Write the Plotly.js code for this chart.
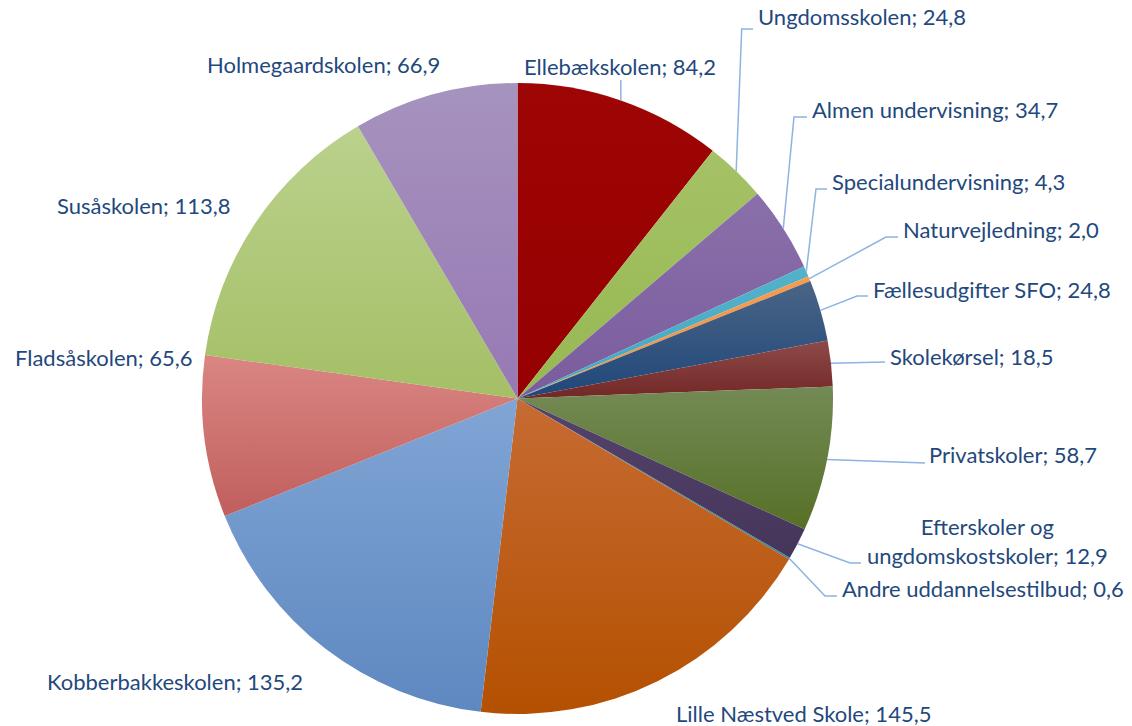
<!DOCTYPE html>
<html><head><meta charset="utf-8">
<script src="https://cdn.plot.ly/plotly-3.0.1.min.js"></script>
<style>html,body{margin:0;padding:0;background:#fff}#chart{width:1132px;height:726px}</style>
</head><body><div id="chart"></div>
<script>
const labels = ["Ellebækskolen","Ungdomsskolen","Almen undervisning","Specialundervisning","Naturvejledning","Fællesudgifter SFO","Skolekørsel","Privatskoler","Efterskoler og ungdomskostskoler","Andre uddannelsestilbud","Lille Næstved Skole","Kobberbakkeskolen","Fladsåskolen","Susåskolen","Holmegaardskolen"];
const values = [84.2,24.8,34.7,4.3,2.0,24.8,18.5,58.7,12.9,0.6,145.5,135.2,65.6,113.8,66.9];
const colors = ["#990000","#9BBB59","#8064A2","#4BACC6","#F79646","#2E4F7C","#7B2E2C","#5F7530","#4D3B62","#31849B","#BB5408","#6E97CC","#D0736F","#AFC87A","#9E88B8"];
const topColors = ["#9E0505","#A5C266","#8A70AA","#52B2CA","#F89B4E","#4A6585","#8D4B49","#738A55","#54436A","#31849B","#C66B33","#80A5D5","#DA8683","#BBD18D","#A693BE"];
const bottomColors = ["#960000","#96B852","#7A5C9E","#46A8C2","#F5913F","#1F477A","#722726","#577026","#46355B","#31849B","#B45000","#5E88C0","#C05F5D","#A4BF66","#9779B4"];
const labelText = ["Ellebækskolen; 84,2","Ungdomsskolen; 24,8","Almen undervisning; 34,7","Specialundervisning; 4,3","Naturvejledning; 2,0","Fællesudgifter SFO; 24,8","Skolekørsel; 18,5","Privatskoler; 58,7","Efterskoler og<br>ungdomskostskoler; 12,9","Andre uddannelsestilbud; 0,6","Lille Næstved Skole; 145,5","Kobberbakkeskolen; 135,2","Fladsåskolen; 65,6","Susåskolen; 113,8","Holmegaardskolen; 66,9"];

// layout (pixels)
const W = 1132, H = 726, CX = 517.5, CY = 398.5, R = 315.5;
// label anchor positions [x, y, xanchor]
const labelPos = [[522,67,"left"],[756,17,"left"],[810,110,"left"],[830,182,"left"],[901,229,"left"],[871,289,"left"],[888,356,"left"],[927,455,"left"],[987,541,"center"],[840,588,"left"],[674,713,"left"],[45,681,"left"],[13,357,"left"],[55,205,"left"],[205,65,"left"]];
// leader line: points after the slice edge (null = no line)
const leader = [[[620.8,80]],[[741.7,29],[753,29]],[[794,117],[807,117]],[[816,189],[827,189]],[[886,237],[898,237]],[[857,296],[868,296]],[[885,362]],[[925,463]],[[850,563],[861,563]],[[825,596],[837,596]],null,null,null,null,null];

const px = x => x / W, py = y => 1 - y / H;
const total = values.reduce((a,b)=>a+b,0);
let cum = 0;
const shapes = [], annotations = [];
values.forEach((v,i)=>{
  const mid = (cum + v/2)/total*2*Math.PI; cum += v;
  const sx = CX + R*Math.sin(mid), sy = CY - R*Math.cos(mid);
  if (leader[i]) {
    let p = `M ${px(sx)} ${py(sy)}`;
    leader[i].forEach(q => { p += ` L ${px(q[0])} ${py(q[1])}`; });
    shapes.push({type:"path", xref:"paper", yref:"paper", path:p, line:{color:"#8DB3E2", width:1.5}});
  }
  const lp = labelPos[i];
  annotations.push({xref:"paper", yref:"paper", x:px(lp[0]), y:py(lp[1]), xanchor:lp[2], yanchor:"middle", align:"center", showarrow:false, text:labelText[i], font:{family:"Lato, 'Open Sans', sans-serif", size:22, color:"#1F497D"}});
});

const data = [{type:"pie", labels:labels, values:values, sort:false, direction:"clockwise", rotation:0,
  marker:{colors:colors, line:{width:0}}, textinfo:"none", hoverinfo:"label+value",
  domain:{x:[(CX-R)/W,(CX+R)/W], y:[1-(CY+R)/H, 1-(CY-R)/H]}}];
const layout = {width:W, height:H, margin:{l:0,r:0,t:0,b:0}, showlegend:false, paper_bgcolor:"#fff", shapes:shapes, annotations:annotations};
Plotly.newPlot("chart", data, layout, {displayModeBar:false, staticPlot:true}).then(gd => {
  // subtle vertical shading per slice, like the original
  const NS = "http://www.w3.org/2000/svg";
  const svg = gd.querySelector("svg.main-svg");
  let defs = svg.querySelector("defs");
  if (!defs) { defs = document.createElementNS(NS, "defs"); svg.insertBefore(defs, svg.firstChild); }
  colors.forEach((c,i)=>{
    const g = document.createElementNS(NS, "linearGradient");
    g.setAttribute("id", "sliceGrad" + i);
    g.setAttribute("x1","0"); g.setAttribute("y1","0"); g.setAttribute("x2","0"); g.setAttribute("y2","1");
    [[0, topColors[i]],[1, bottomColors[i]]].forEach(([o,col])=>{
      const s = document.createElementNS(NS, "stop");
      s.setAttribute("offset", o); s.setAttribute("stop-color", col);
      g.appendChild(s);
    });
    defs.appendChild(g);
  });
  gd.querySelectorAll("g.slice path.surface").forEach((p,i)=>{
    p.style.fill = `url(#sliceGrad${i})`;
  });
});
</script></body></html>
